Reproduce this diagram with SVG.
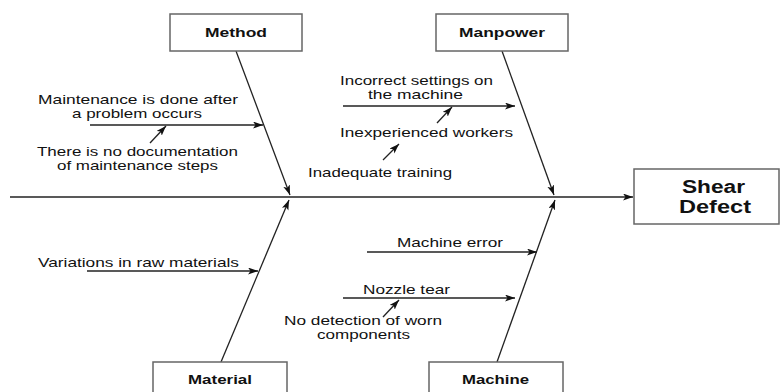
<svg xmlns="http://www.w3.org/2000/svg" width="782" height="392" viewBox="0 0 782 392">
<defs>
<marker id="arr" markerUnits="userSpaceOnUse" markerWidth="11" markerHeight="8" refX="10" refY="3.5" orient="auto">
<path d="M0,0 L10,3.5 L0,7 L2.5,3.5 z" fill="#111"/>
</marker>
</defs>
<style>
.box{fill:#fff;stroke:#666;stroke-width:1.5}
.ln{stroke:#222;stroke-width:1.3;fill:none;marker-end:url(#arr)}
.t{font-family:"Liberation Sans",Arial,sans-serif;font-size:13px;fill:#111}
.b{font-family:"Liberation Sans",Arial,sans-serif;font-size:13px;font-weight:bold;fill:#111}
.big{font-family:"Liberation Sans",Arial,sans-serif;font-size:18px;font-weight:bold;fill:#111}
</style>
<rect width="782" height="392" fill="#fff"/>
<g id="connectors">
<line class="ln" x1="10" y1="197" x2="633" y2="197"/>
<line class="ln" x1="236" y1="51" x2="290" y2="195"/>
<line class="ln" x1="502" y1="51" x2="554" y2="195"/>
<line class="ln" x1="221" y1="362" x2="289" y2="200"/>
<line class="ln" x1="497" y1="362" x2="555" y2="200"/>
<line class="ln" x1="90" y1="125" x2="263" y2="125"/>
<line class="ln" x1="150" y1="143" x2="166" y2="126"/>
<line class="ln" x1="343" y1="106" x2="515" y2="106"/>
<line class="ln" x1="437" y1="123" x2="452" y2="107"/>
<line class="ln" x1="383" y1="160" x2="399" y2="144"/>
<line class="ln" x1="87" y1="271" x2="258" y2="271"/>
<line class="ln" x1="367" y1="252" x2="537" y2="252"/>
<line class="ln" x1="343" y1="298" x2="515" y2="298"/>
<line class="ln" x1="383" y1="317" x2="399" y2="300"/>
</g>
<g id="method"><rect class="box" x="170" y="14" width="132" height="37"/><text class="b" x="205" y="37" textLength="62" lengthAdjust="spacingAndGlyphs">Method</text></g>
<g id="manpower"><rect class="box" x="436" y="14" width="132" height="37"/><text class="b" x="459" y="37" textLength="86" lengthAdjust="spacingAndGlyphs">Manpower</text></g>
<g id="material"><rect class="box" x="153" y="362" width="134" height="40"/><text class="b" x="188" y="384" textLength="64" lengthAdjust="spacingAndGlyphs">Material</text></g>
<g id="machine"><rect class="box" x="429" y="362" width="134" height="40"/><text class="b" x="462" y="384" textLength="67" lengthAdjust="spacingAndGlyphs">Machine</text></g>
<g id="shear-defect"><rect class="box" x="634" y="169" width="145" height="55"/>
<text class="big" x="682" y="193" textLength="63" lengthAdjust="spacingAndGlyphs">Shear</text>
<text class="big" x="679" y="213" textLength="72" lengthAdjust="spacingAndGlyphs">Defect</text></g>
<g id="cause-maintenance"><text class="t" x="38" y="104" textLength="200" lengthAdjust="spacingAndGlyphs">Maintenance is done after</text><text class="t" x="72" y="118" textLength="130" lengthAdjust="spacingAndGlyphs">a problem occurs</text></g>
<g id="cause-documentation"><text class="t" x="37" y="156" textLength="201" lengthAdjust="spacingAndGlyphs">There is no documentation</text><text class="t" x="57" y="170" textLength="161" lengthAdjust="spacingAndGlyphs">of maintenance steps</text></g>
<g id="cause-settings"><text class="t" x="340" y="85" textLength="153" lengthAdjust="spacingAndGlyphs">Incorrect settings on</text><text class="t" x="368" y="99" textLength="95" lengthAdjust="spacingAndGlyphs">the machine</text></g>
<g id="cause-workers"><text class="t" x="340" y="137" textLength="173" lengthAdjust="spacingAndGlyphs">Inexperienced workers</text></g>
<g id="cause-training"><text class="t" x="308" y="177" textLength="144" lengthAdjust="spacingAndGlyphs">Inadequate training</text></g>
<g id="cause-raw"><text class="t" x="38" y="267" textLength="201" lengthAdjust="spacingAndGlyphs">Variations in raw materials</text></g>
<g id="cause-machine-error"><text class="t" x="397" y="247" textLength="106" lengthAdjust="spacingAndGlyphs">Machine error</text></g>
<g id="cause-nozzle"><text class="t" x="363" y="294" textLength="87" lengthAdjust="spacingAndGlyphs">Nozzle tear</text></g>
<g id="cause-detection"><text class="t" x="284" y="325" textLength="158" lengthAdjust="spacingAndGlyphs">No detection of worn</text><text class="t" x="317" y="339" textLength="93" lengthAdjust="spacingAndGlyphs">components</text></g>
</svg>
